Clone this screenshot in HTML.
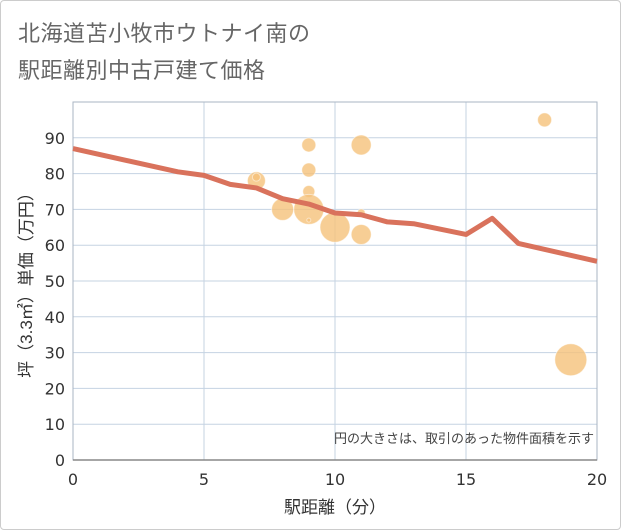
<!DOCTYPE html>
<html><head><meta charset="utf-8"><style>
html,body{margin:0;padding:0;background:#fff;}
body{width:621px;height:530px;overflow:hidden;font-family:"Liberation Sans","Noto Sans CJK JP",sans-serif;}
#frame{position:absolute;left:0;top:0;width:619px;height:528px;border:1px solid #ccc;border-radius:4px;}
.t{position:absolute;left:18px;font-size:22px;color:#666;letter-spacing:0.5px;}
</style></head><body>
<div id="frame"></div>
<div class="t" style="top:16px">北海道苫小牧市ウトナイ南の</div>
<div class="t" style="top:53px">駅距離別中古戸建て価格</div>
<svg id="c" width="621" height="530" style="position:absolute;left:0;top:0"></svg>
<script>
const xTicks=[0,5,10,15,20];
const yTicks=[0,10,20,30,40,50,60,70,80,90];
const lineX=[0,4,5,6,7,8,9,10,11,12,13,15,16,17,20];
const lineY=[87,80.5,79.5,77,76,73,71.5,69,68.5,66.5,66,63,67.5,60.5,55.5];
const bubX=[7,7,9,9,9,8,9,10,11,11,11,18,19,9];
const bubY=[78,79,88,81,75,70,70,65,63,88,69,95,28,67];
const bubR=[9,4,7,7,6,11,15,15,10,10,4,7,16,2];
const L=73,R=597,B=460,T=102;
const sx=v=>L+(R-L)*v/20, sy=v=>B-(B-T)*v/100;
const svg=document.getElementById('c');
const NS='http://www.w3.org/2000/svg';
const NUMF='"DejaVu Sans","Noto Sans CJK JP",sans-serif';
function mk(tag,a,p){const e=document.createElementNS(NS,tag);for(const k in a)e.setAttribute(k,a[k]);(p||svg).appendChild(e);return e;}
const g=mk('g',{});


yTicks.forEach(v=>{const l=mk('line',{x1:L,x2:R,y1:sy(v),y2:sy(v),stroke:'#c5d3e2','stroke-width':1},g);


const t=mk('text',{x:L-8,y:sy(v)+6,'text-anchor':'end','font-size':16,fill:'#333','font-family':NUMF});t.textContent=v;

});
xTicks.forEach(v=>{const l=mk('line',{x1:sx(v),x2:sx(v),y1:T,y2:B,stroke:'#c5d3e2','stroke-width':1},g);


const t=mk('text',{x:sx(v),y:B+25,'text-anchor':'middle','font-size':16,fill:'#333','font-family':NUMF});t.textContent=v;

});
const fr=mk('rect',{x:L,y:T,width:R-L,height:B-T,fill:'none',stroke:'#aab5c3','stroke-width':1});


const ax=mk('line',{x1:L,x2:R,y1:B,y2:B,stroke:'#888','stroke-width':1.5});


bubX.forEach((x,i)=>{const c=mk('circle',{cx:sx(x),cy:sy(bubY[i]),r:bubR[i],fill:'#f5c27a','fill-opacity':0.8,stroke:'#fff','stroke-opacity':0.5});

});
const p=mk('polyline',{points:lineX.map((x,i)=>sx(x)+','+sy(lineY[i])).join(' '),fill:'none',stroke:'#d9725c','stroke-width':5,'stroke-linejoin':'round'});


const n=mk('text',{x:R-3,y:443,'text-anchor':'end','font-size':13,fill:'#444'});n.textContent='円の大きさは、取引のあった物件面積を示す';


const xt=mk('text',{x:sx(10),y:513,'text-anchor':'middle','font-size':17,fill:'#333'});xt.textContent='駅距離（分）';


const yt=mk('text',{x:0,y:0,'text-anchor':'middle','font-size':17,fill:'#333',transform:'translate(32,281) rotate(-90)'});yt.textContent='坪（3.3㎡）単価（万円）';


</script>
</body></html>
